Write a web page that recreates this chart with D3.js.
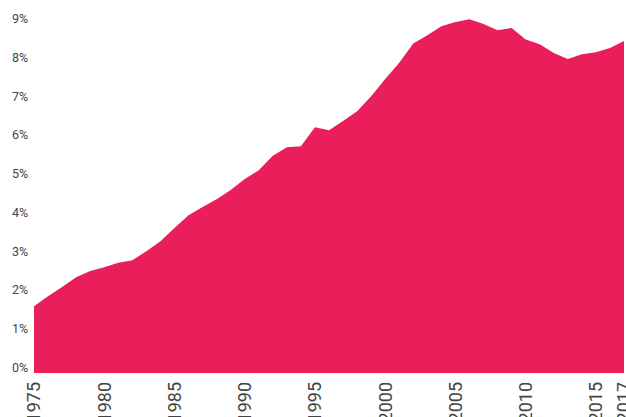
<!DOCTYPE html>
<html>
<head>
<meta charset="utf-8">
<script src="https://cdn.jsdelivr.net/npm/d3@7"></script>
<style>
  html, body { margin: 0; padding: 0; background: #fff; }
  svg { display: block; font-family: Roboto, "Noto Sans", sans-serif; }
</style>
</head>
<body>
<div id="chart"></div>
<script>
const years = d3.range(1975, 2018);
const values = [
  1.72, 1.98, 2.22, 2.47, 2.63, 2.73, 2.84, 2.91, 3.14, 3.40,
  3.74, 4.07, 4.28, 4.48, 4.72, 5.00, 5.23, 5.60, 5.82, 5.85,
  6.34, 6.26, 6.50, 6.75, 7.14, 7.58, 8.00, 8.50, 8.71, 8.94,
  9.05, 9.12, 9.00, 8.84, 8.90, 8.60, 8.48, 8.25, 8.10, 8.22,
  8.27, 8.38, 8.56
];
const yTicks = [0, 1, 2, 3, 4, 5, 6, 7, 8, 9];
const xTicks = [1975, 1980, 1985, 1990, 1995, 2000, 2005, 2010, 2015, 2017];

const data = years.map((yr, i) => ({ year: yr, value: values[i] }));

const width = 626, height = 417;

const svg = d3.select("#chart")
    .append("svg")
        .attr("width", width)
        .attr("height", height);

const x = d3.scaleLinear()
    .domain([1975, 2017])
    .range([34, 624]);

const y = d3.scaleLinear()
    .domain([0, 9])
    .range([373, 24]);

// aire
const area = d3.area()
    .x(d => x(d.year))
    .y0(y(0))
    .y1(d => y(d.value));

svg.append("path")
    .datum(data)
    .attr("d", area)
    .attr("fill", "#E91E5A");

// etiquetes eix Y
svg.append("g")
    .selectAll("text")
    .data(yTicks)
    .enter()
    .append("text")
        .attr("x", 12)
        .attr("y", d => y(d) - 1)
        .style("font-size", "12.5px")
        .style("fill", "#444")
        .text(d => d + "%");

// etiquetes eix X (girades)
svg.append("g")
    .selectAll("text")
    .data(xTicks)
    .enter()
    .append("text")
        .attr("transform", d => `translate(${x(d)}, 382) rotate(-90)`)
        .attr("text-anchor", "end")
        .attr("dy", "0.35em")
        .style("font-size", "18px")
        .style("fill", "#444")
        .text(d => d);
</script>
</body>
</html>
